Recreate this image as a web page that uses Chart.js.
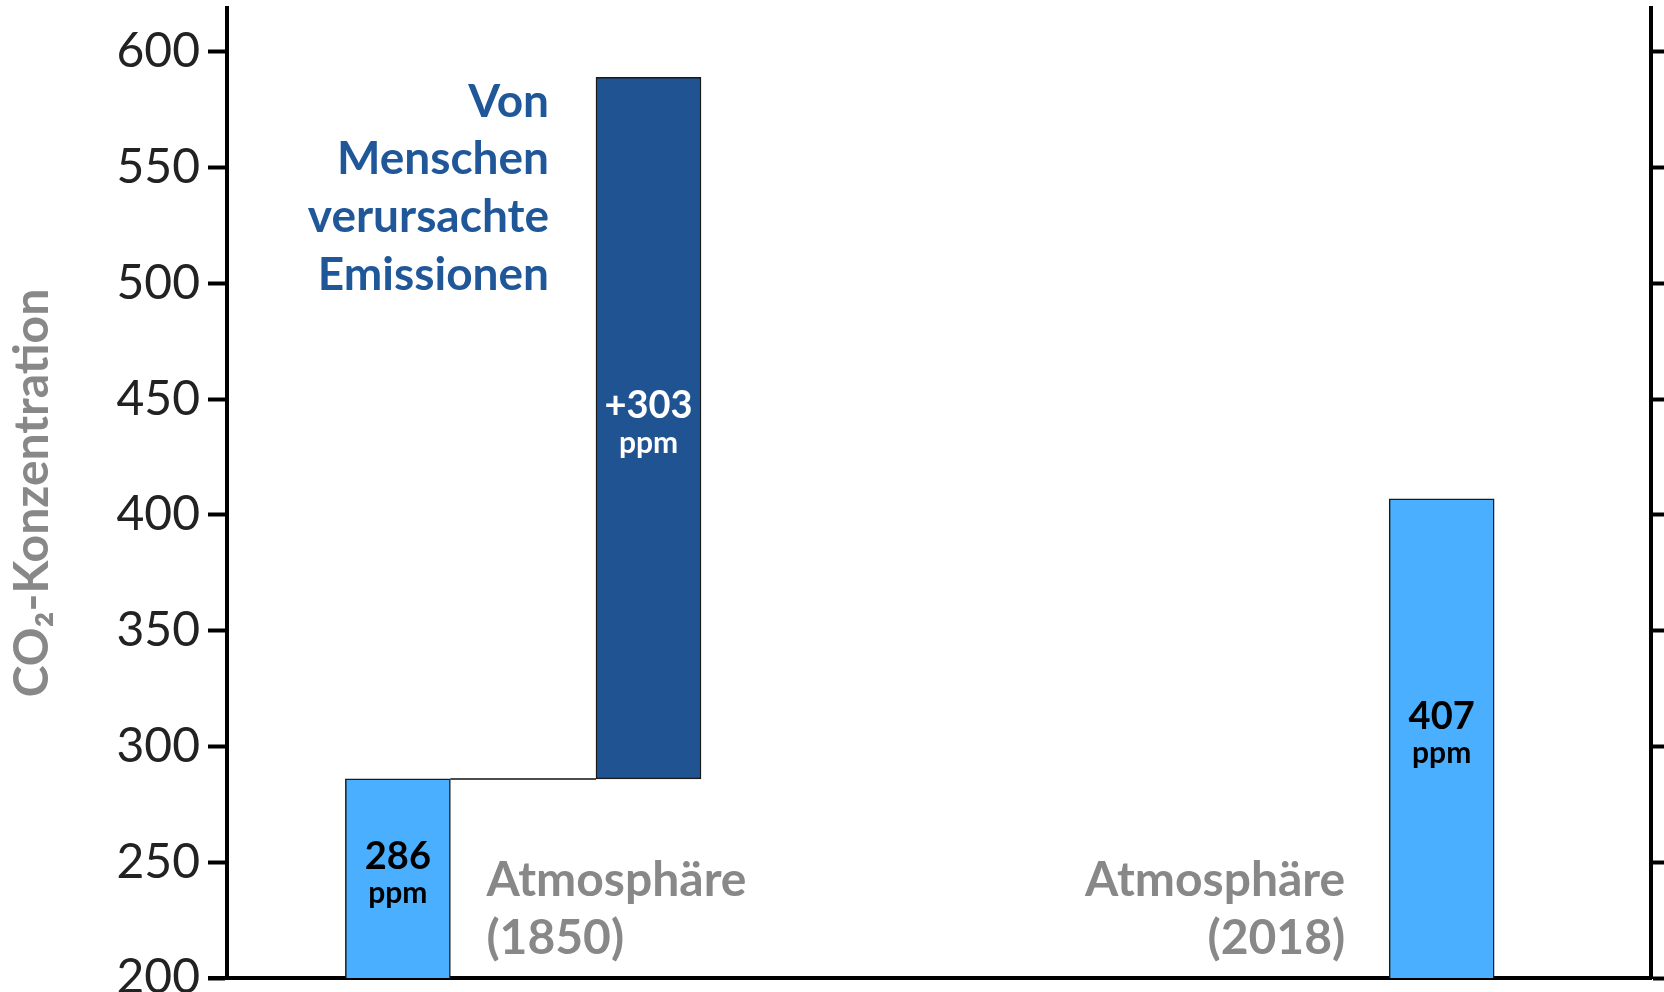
<!DOCTYPE html>
<html>
<head>
<meta charset="utf-8">
<script src="https://cdn.jsdelivr.net/npm/chart.js@4/dist/chart.umd.min.js"></script>
<style>
  html, body { margin: 0; padding: 0; background: #fff; }
  #wrap { width: 1664px; height: 992px; }
</style>
</head>
<body>
<div id="wrap"><canvas id="chart"></canvas></div>
<script>
// values (ppm)
const categories = ["Atmosphäre (1850)", "Von Menschen verursachte Emissionen", "Atmosphäre (2018)"];
const barStart = [0, 286, 0];
const barEnd = [286, 589, 407];
const slot = [1.2, 2.96, 8.53]; // where each bar sits on the x axis (0..10)
const yTicks = [200, 250, 300, 350, 400, 450, 500, 550, 600];

const LIGHT = "#4AAFFE";
const DARK = "#1F5391";

Chart.defaults.font.family = "Lato";

const keepTicks = (scale) => {
  scale.ticks = yTicks.map(v => ({value: v}));
};

// connector + text labels
const extras = {
  id: "extras",
  afterDatasetsDraw(chart) {
    const ctx = chart.ctx;
    const els = chart.getDatasetMeta(0).data;
    const ys = chart.scales.y;
    const area = chart.chartArea;

    // step line from first bar top to the emissions bar
    const ly = ys.getPixelForValue(barEnd[0]);
    ctx.save();
    ctx.strokeStyle = "#111";
    ctx.lineWidth = 1.5;
    ctx.beginPath();
    ctx.moveTo(els[0].x + els[0].width / 2, ly);
    ctx.lineTo(els[1].x - els[1].width / 2, ly);
    ctx.stroke();

    // bottom axis runs a bit past the left axis, like the ticks
    ctx.strokeStyle = "#000";
    ctx.lineWidth = 4;
    ctx.beginPath();
    ctx.moveTo(area.left - 19, area.bottom);
    ctx.lineTo(area.left, area.bottom);
    ctx.stroke();

    // numbers inside bars
    ctx.textAlign = "center";
    ctx.textBaseline = "middle";
    els.forEach((el, i) => {
      const top = Math.max(el.y, area.top);
      const bot = Math.min(el.base, area.bottom);
      const mid = (top + bot) / 2;
      const txt = barStart[i] > 0 ? "+" + (barEnd[i] - barStart[i]) : String(barEnd[i]);
      ctx.fillStyle = barStart[i] > 0 ? "#fff" : "#000";
      ctx.font = "bold 38px Lato";
      ctx.fillText(txt, el.x, mid - 22);
      ctx.font = "bold 30px Lato";
      ctx.fillText("ppm", el.x, mid + 15);
    });

    // category captions
    ctx.font = "bold 48px Lato";
    ctx.fillStyle = "#888";
    ctx.textAlign = "left";
    let x0 = els[0].x + els[0].width / 2 + 36;
    ctx.fillText("Atmosphäre", x0, ys.getPixelForValue(242.2));
    ctx.fillText("(1850)", x0, ys.getPixelForValue(217));
    ctx.textAlign = "right";
    let x2 = els[2].x - els[2].width / 2 - 44;
    ctx.fillText("Atmosphäre", x2, ys.getPixelForValue(242.2));
    ctx.fillText("(2018)", x2, ys.getPixelForValue(217));

    ctx.font = "bold 46px Lato";
    ctx.fillStyle = "#1F5799";
    let x1 = els[1].x - els[1].width / 2 - 47;
    const lines = ["Von", "Menschen", "verursachte", "Emissionen"];
    lines.forEach((t, k) => {
      ctx.fillText(t, x1, ys.getPixelForValue(578.5) + k * 57.7);
    });
    ctx.restore();
  }
};

new Chart(document.getElementById("chart"), {
  type: "bar",
  data: {
    labels: categories,
    datasets: [{
      data: slot.map((s, i) => ({x: s, y: [barStart[i], barEnd[i]]})),
      backgroundColor: [LIGHT, DARK, LIGHT],
      borderColor: "#1a1a1a",
      borderWidth: 1.5,
      borderSkipped: false,
      barThickness: 105
    }]
  },
  options: {
    responsive: true,
    maintainAspectRatio: false,
    animation: false,
    layout: {padding: {top: 8, bottom: 14, left: 0, right: 0}},
    plugins: {legend: {display: false}, tooltip: {enabled: false}},
    scales: {
      x: {
        type: "linear",
        min: 0,
        max: 10,
        offset: false,
        ticks: {display: false},
        grid: {display: false, drawTicks: false},
        border: {display: true, color: "#000", width: 4},
        afterFit: (s) => { s.height = 0; s.paddingLeft = 0; s.paddingRight = 0; }
      },
      y: {
        position: "left",
        min: 200,
        max: 619,
        afterBuildTicks: keepTicks,
        afterFit: (s) => { s.width = 227; s.paddingTop = 0; s.paddingBottom = 0; },
        ticks: {color: "#222", font: {size: 48}, padding: 8},
        grid: {drawOnChartArea: false, tickLength: 19, tickWidth: 4, tickColor: "#000"},
        border: {display: true, color: "#000", width: 4},
        title: {
          display: true,
          text: "CO₂-Konzentration",
          color: "#888",
          font: {size: 48, weight: "bold"},
          padding: {top: 4, bottom: 0}
        }
      },
      y2: {
        position: "right",
        min: 200,
        max: 619,
        afterBuildTicks: keepTicks,
        afterFit: (s) => { s.width = 13; s.paddingTop = 0; s.paddingBottom = 0; },
        ticks: {display: false},
        grid: {drawOnChartArea: false, tickLength: 13, tickWidth: 4, tickColor: "#000"},
        border: {display: true, color: "#000", width: 4}
      }
    }
  },
  plugins: [extras]
});
</script>
</body>
</html>
